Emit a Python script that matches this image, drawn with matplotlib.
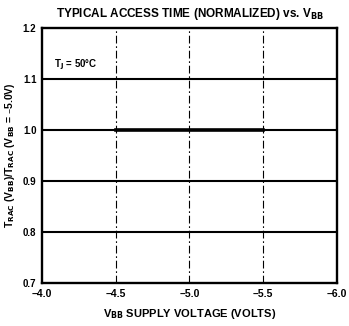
import matplotlib
matplotlib.use("Agg")
import matplotlib.pyplot as plt

# Access time ratio vs VBB supply, normalized to VBB = -5.0 V
vbb_volts = [-4.5, -5.0, -5.5]
trac_ratio = [1.0, 1.0, 1.0]

x_ticks = [-4.0, -4.5, -5.0, -5.5, -6.0]
x_tick_labels = ["\u20134.0", "\u20134.5", "\u20135.0", "\u20135.5", "\u20136.0"]
y_ticks = [0.7, 0.8, 0.9, 1.0, 1.1, 1.2]
y_tick_labels = ["0.7", "0.8", "0.9", "1.0", "1.1", "1.2"]

plt.rcParams["font.family"] = ["Liberation Sans", "DejaVu Sans"]
plt.rcParams["font.weight"] = "bold"

fig = plt.figure(figsize=(3.49, 3.26), dpi=100)
ax = fig.add_axes([0.1203, 0.132, 0.8453, 0.782])

# grid: solid horizontals, broken verticals
for y in y_ticks[1:-1]:
    ax.axhline(y, color="black", linewidth=1.5, zorder=1)
for x in x_ticks[1:-1]:
    ax.axvline(x, color="black", linewidth=0.8, linestyle=(0, (7, 2.5, 1.5, 2.5)), zorder=1)

ax.plot(vbb_volts, trac_ratio, color="black", linewidth=2.6, zorder=2)

ax.set_xlim(-4.0, -6.0)
ax.set_ylim(0.7, 1.2)
ax.set_xticks(x_ticks)
ax.set_xticklabels(x_tick_labels, fontsize=7.5, fontweight="bold")
ax.set_yticks(y_ticks)
ax.set_yticklabels(y_tick_labels, fontsize=7, fontweight="bold")
ax.tick_params(length=0, pad=4)

for spine in ax.spines.values():
    spine.set_linewidth(1.7)

ax.text(-4.08, 1.128, "T$_\\mathbf{J}$ = 50\u00b0C", fontsize=7, fontweight="bold",
        va="center", ha="left")

ax.set_xlabel("V$_\\mathbf{BB}$ SUPPLY VOLTAGE (VOLTS)", fontsize=8,
              fontweight="bold", labelpad=6)
ax.set_ylabel("T$_\\mathbf{RAC}$ (V$_\\mathbf{BB}$)/T$_\\mathbf{RAC}$ (V$_\\mathbf{BB}$ = \u20135.0V)",
              fontsize=7.5, fontweight="bold", labelpad=4)
ax.set_title("TYPICAL ACCESS TIME (NORMALIZED) vs. V$_\\mathbf{BB}$",
             fontsize=8.5, fontweight="bold", pad=8)

fig.savefig("out.png", dpi=100)
